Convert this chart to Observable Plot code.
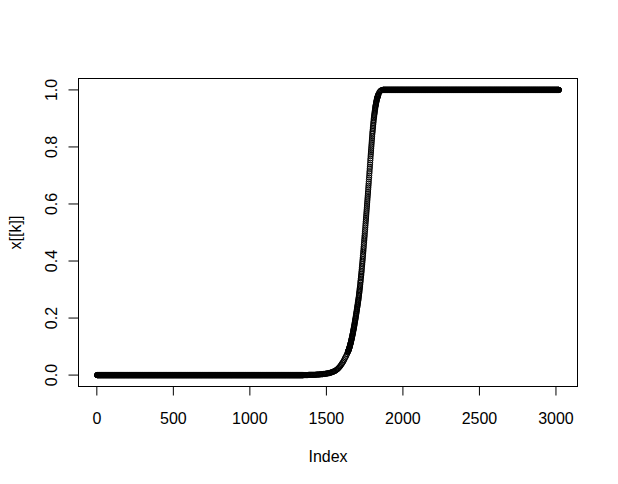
<!DOCTYPE html>
<html>
<head>
<meta charset="utf-8">
<script src="https://cdn.jsdelivr.net/npm/d3@7"></script>
<script src="https://cdn.jsdelivr.net/npm/@observablehq/plot@0.6"></script>
<style>
  html, body { margin: 0; padding: 0; background: #ffffff; }
  #chart { width: 618px; height: 484px; }
</style>
</head>
<body>
<div id="chart"></div>
<script>
// ---- data ----
const seriesLength = 3020;
const lowRun = { first: 1, last: 1349, value: 0 };
const tailStart = 1350, tailStep = 5;
const tailValues = [
  0.000,0.000,0.000,0.000,0.000,0.000,0.000,0.001,0.001,0.001,
  0.001,0.001,0.001,0.001,0.001,0.001,0.001,0.002,0.002,0.002,
  0.002,0.002,0.003,0.003,0.003,0.003,0.004,0.004,0.004,0.005,
  0.005,0.006,0.006,0.007,0.007,0.008,0.009,0.010,0.011,0.012,
  0.013,0.014,0.016,0.018,0.020,0.022,0.025,0.028,0.031,0.035,
  0.039,0.043,0.047,0.052,0.058,0.063,0.068,0.074
];
const riseStart = 1640, riseStep = 1;
const riseValues = [
  0.080,0.082,0.083,0.085,0.086,0.088,0.089,0.091,0.092,0.094,
  0.095,0.097,0.099,0.101,0.103,0.105,0.107,0.109,0.111,0.113,
  0.115,0.117,0.120,0.122,0.125,0.127,0.129,0.132,0.134,0.137,
  0.139,0.142,0.145,0.147,0.150,0.153,0.156,0.159,0.161,0.164,
  0.167,0.170,0.173,0.176,0.179,0.183,0.186,0.189,0.192,0.195,
  0.198,0.201,0.205,0.208,0.212,0.215,0.218,0.222,0.225,0.229,
  0.232,0.236,0.239,0.243,0.246,0.250,0.254,0.257,0.261,0.264,
  0.268,0.272,0.277,0.281,0.286,0.290,0.294,0.299,0.303,0.308,
  0.312,0.317,0.323,0.328,0.333,0.339,0.344,0.349,0.354,0.360,
  0.365,0.371,0.377,0.383,0.389,0.395,0.401,0.407,0.413,0.419,
  0.425,0.432,0.438,0.445,0.451,0.458,0.464,0.471,0.477,0.484,
  0.490,0.497,0.504,0.510,0.517,0.524,0.531,0.538,0.544,0.551,
  0.558,0.565,0.572,0.579,0.586,0.593,0.600,0.607,0.614,0.621,
  0.628,0.635,0.642,0.650,0.657,0.664,0.671,0.678,0.686,0.693,
  0.700,0.708,0.715,0.723,0.730,0.738,0.745,0.753,0.760,0.768,
  0.775,0.782,0.789,0.796,0.803,0.810,0.817,0.824,0.831,0.838,
  0.845,0.851,0.856,0.862,0.867,0.873,0.878,0.884,0.889,0.895,
  0.900,0.904,0.908,0.912,0.916,0.920,0.924,0.928,0.932,0.936,
  0.940,0.943,0.946,0.948,0.951,0.954,0.957,0.960,0.962,0.965,
  0.968,0.970,0.971,0.973,0.975,0.976,0.978,0.980,0.981,0.983
];
const topStart = 1840, topStep = 5;
const topValues = [0.985,0.991,0.995,0.997,0.999,1.000,1.000];
const highRun = { first: 1871, last: 3020, value: 1 };

const xTicks = [0, 500, 1000, 1500, 2000, 2500, 3000];
const xTickLabels = ["0", "500", "1000", "1500", "2000", "2500", "3000"];
const yTicks = [0, 0.2, 0.4, 0.6, 0.8, 1.0];
const yTickLabels = ["0.0", "0.2", "0.4", "0.6", "0.8", "1.0"];
const xLabel = "Index";
const yLabel = "x[[k]]";

// ---- build table ----
const points = [];
for (let i = lowRun.first; i <= lowRun.last; i++) points.push({ i, v: lowRun.value });
tailValues.forEach((v, k) => points.push({ i: tailStart + k * tailStep, v }));
riseValues.forEach((v, k) => points.push({ i: riseStart + k * riseStep, v }));
topValues.forEach((v, k) => points.push({ i: topStart + k * topStep, v }));
for (let i = highRun.first; i <= highRun.last; i++) points.push({ i, v: highRun.value });

const pad = 0.04 * (seriesLength - 1);
const font = "'Liberation Sans', Arial, Helvetica, sans-serif";

const chart = Plot.plot({
  width: 618,
  height: 484,
  marginLeft: 78,
  marginRight: 41,
  marginTop: 78,
  marginBottom: 98,
  style: { fontFamily: font, fontSize: "16px", color: "black", background: "white" },
  x: { domain: [1 - pad, seriesLength + pad] },
  y: { domain: [-0.04, 1.04] },
  marks: [
    Plot.dot(points, { x: "i", y: "v", r: 2.6, stroke: "black", strokeWidth: 1, fill: "none" }),
    Plot.frame({ stroke: "black", strokeWidth: 1 }),
    Plot.axisX({
      ticks: xTicks,
      tickSize: 9.5,
      tickPadding: 16.5,
      fontSize: 16,
      tickFormat: d => xTickLabels[xTicks.indexOf(d)],
      label: null
    }),
    Plot.axisY({
      ticks: yTicks,
      tickSize: 9.5,
      tickFormat: () => "",
      label: null
    }),
    Plot.text(yTicks, {
      y: d => d,
      text: d => yTickLabels[yTicks.indexOf(d)],
      frameAnchor: "left",
      dx: -21.5,
      rotate: -90,
      textAnchor: "middle",
      lineAnchor: "bottom",
      fontSize: 16,
      fill: "black"
    }),
    Plot.text([xLabel], {
      text: d => d,
      frameAnchor: "bottom",
      dy: 75,
      lineAnchor: "bottom",
      textAnchor: "middle",
      fontSize: 16,
      fill: "black"
    }),
    Plot.text([yLabel], {
      text: d => d,
      frameAnchor: "left",
      dx: -58,
      rotate: -90,
      textAnchor: "middle",
      lineAnchor: "bottom",
      fontSize: 16,
      fill: "black"
    })
  ]
});
document.getElementById("chart").appendChild(chart);
</script>
</body>
</html>
